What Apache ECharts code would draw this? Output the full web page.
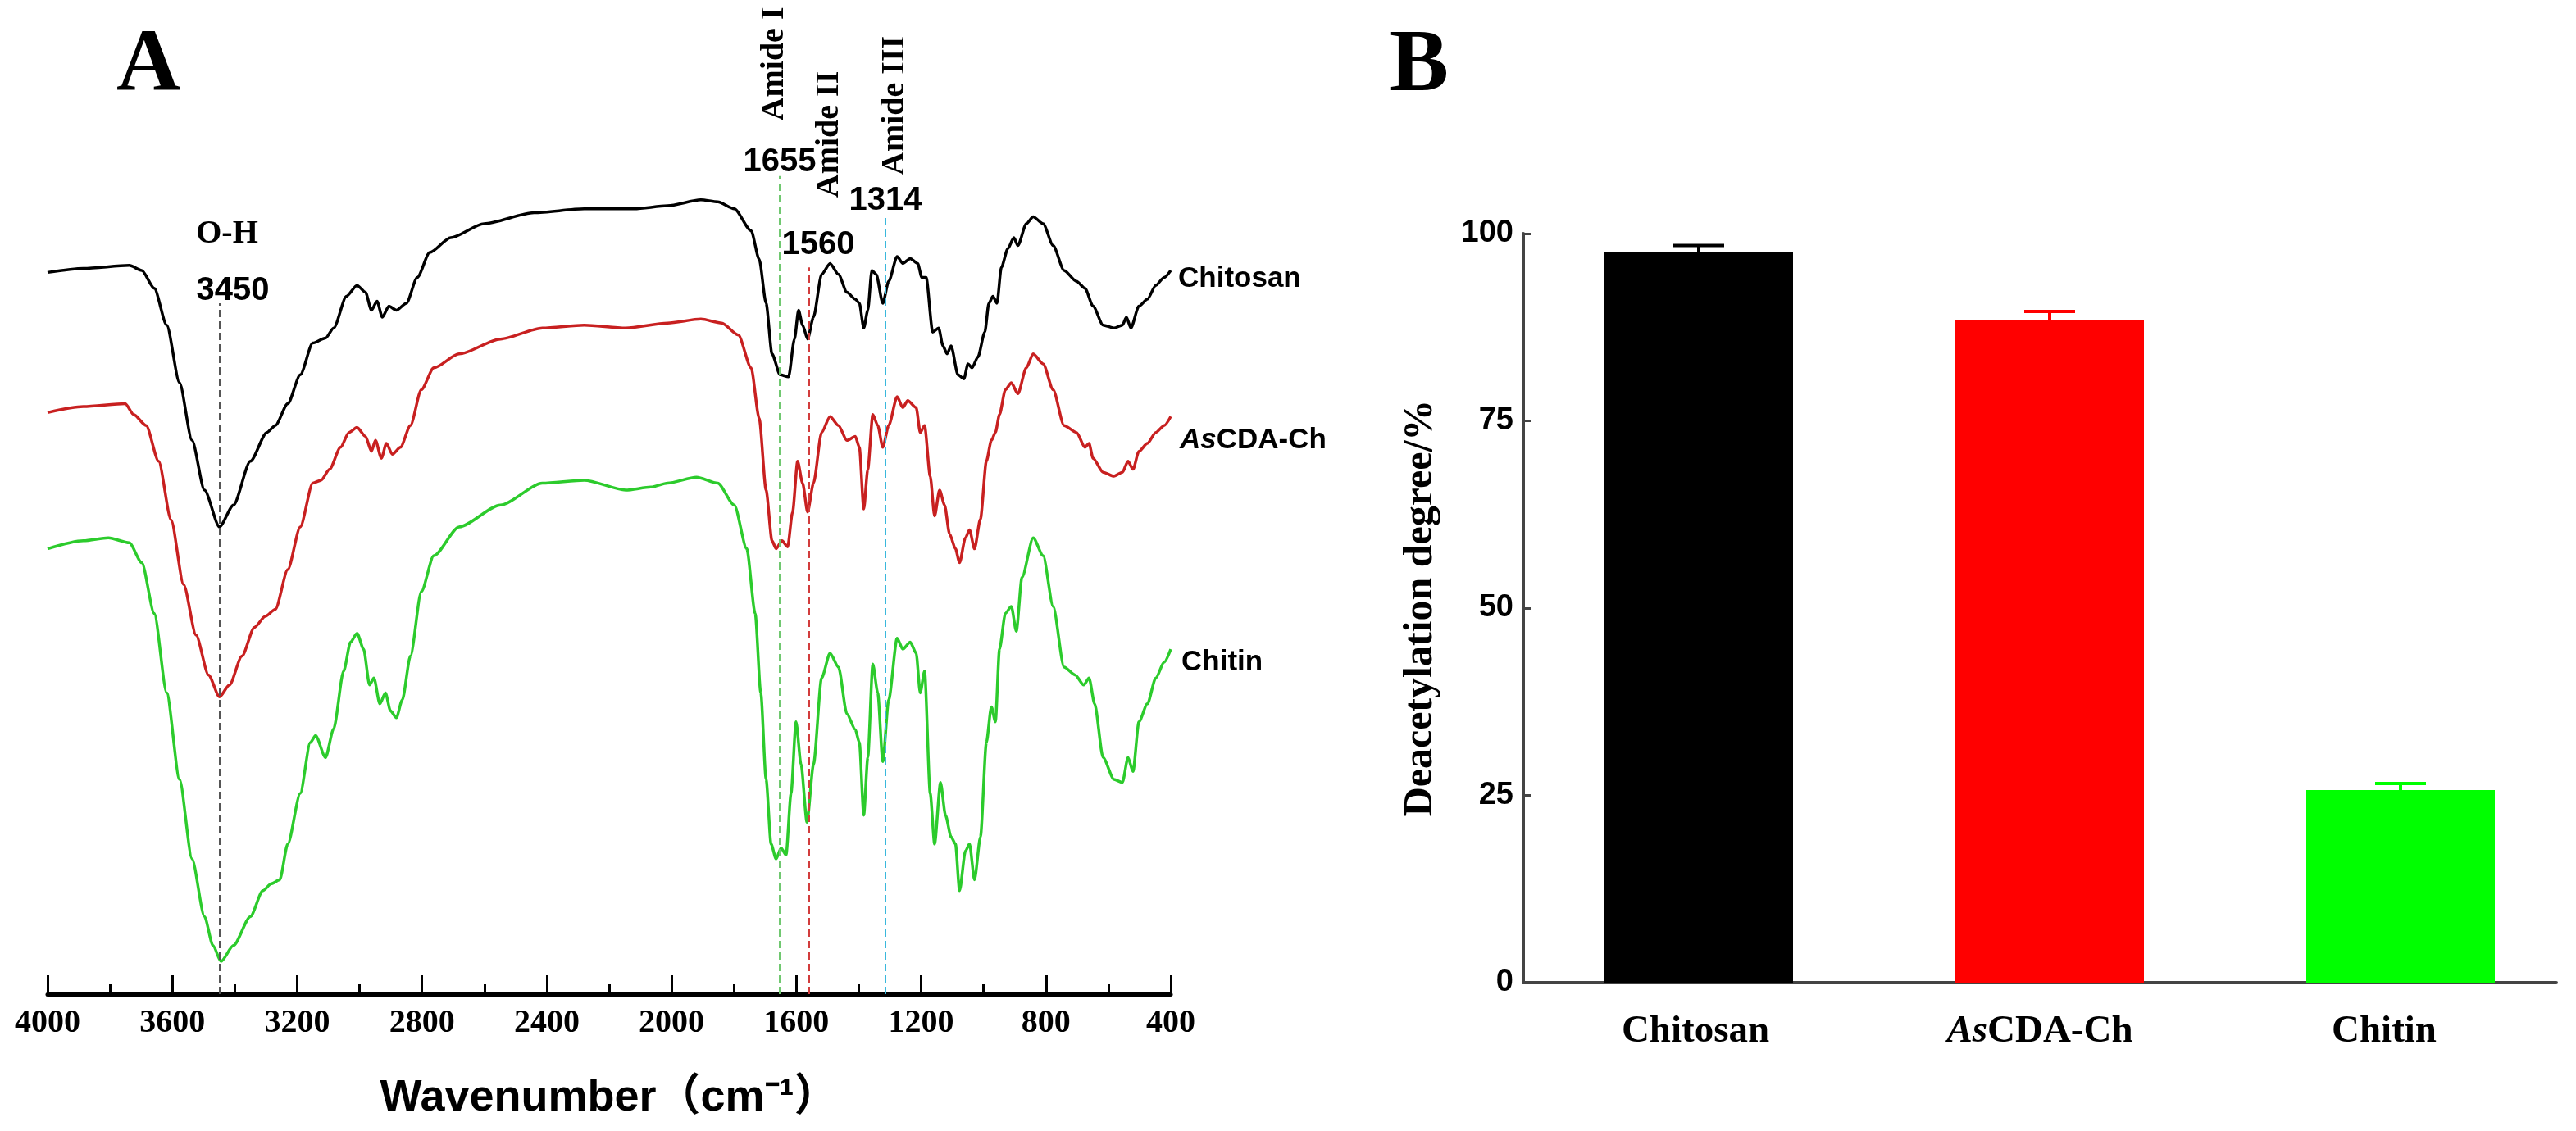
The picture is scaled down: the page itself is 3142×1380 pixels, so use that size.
<!DOCTYPE html>
<html><head><meta charset="utf-8">
<script src="https://cdn.jsdelivr.net/npm/echarts@6/dist/echarts.min.js"></script>
<style>html,body{margin:0;padding:0;background:#fff}#c{width:3142px;height:1380px}</style>
</head><body><div id="c"></div>
<script>
// ---- Panel A: FTIR spectra, [wavenumber (cm-1), offset transmittance (a.u.)] ----
const chitosanIR = [[4000,72.6],[3885,73.0],[3738,73.3],[3698,72.8],[3658,71.0],[3618,67.3],[3577,61.5],[3537,55.7],[3497,50.7],[3449,47.0],[3404,49.2],[3350,53.6],[3297,56.5],[3270,57.2],[3230,59.4],[3190,62.3],[3150,65.5],[3109,66.0],[3083,67.0],[3042,70.2],[3008,71.3],[2981,70.6],[2962,68.8],[2944,69.7],[2927,68.1],[2906,69.2],[2882,68.8],[2850,69.5],[2815,72.1],[2775,74.6],[2708,76.1],[2601,77.5],[2441,78.6],[2280,79.0],[2120,79.0],[2013,79.3],[1906,79.9],[1852,79.7],[1799,79.0],[1745,76.8],[1719,73.9],[1697,69.5],[1678,64.4],[1652,62.3],[1625,62.1],[1606,65.9],[1593,68.8],[1580,67.3],[1564,65.9],[1545,68.1],[1519,72.4],[1492,73.5],[1465,72.4],[1438,70.6],[1411,69.9],[1398,69.5],[1384,67.0],[1371,68.8],[1358,72.8],[1344,72.4],[1323,69.5],[1304,71.7],[1277,74.2],[1259,73.5],[1235,74.0],[1211,73.5],[1198,72.1],[1184,72.1],[1163,66.6],[1144,67.0],[1130,65.2],[1117,64.4],[1104,65.2],[1082,62.3],[1063,61.9],[1050,63.4],[1037,63.0],[1018,64.1],[996,66.6],[983,69.5],[970,70.2],[957,69.5],[943,73.1],[922,75.0],[903,76.1],[890,75.3],[863,77.5],[841,78.2],[809,77.5],[777,75.3],[742,72.8],[702,71.7],[675,71.0],[649,69.2],[617,67.3],[582,67.0],[555,67.3],[542,68.1],[528,67.0],[502,69.2],[475,69.9],[448,71.3],[421,72.1],[400,72.8]];
const ascdaIR = [[4000,58.5],[3885,59.1],[3751,59.4],[3724,58.3],[3684,57.2],[3644,53.6],[3604,47.7],[3564,41.2],[3524,36.1],[3484,32.1],[3449,29.9],[3417,31.1],[3377,34.0],[3337,36.9],[3302,38.0],[3270,38.7],[3230,42.7],[3190,47.0],[3150,51.4],[3123,51.7],[3096,52.8],[3061,55.0],[3034,56.5],[3008,57.0],[2981,56.1],[2962,54.6],[2949,55.7],[2930,53.9],[2914,55.4],[2895,54.3],[2869,55.0],[2837,57.2],[2802,60.8],[2762,63.0],[2681,64.4],[2548,65.9],[2414,67.0],[2280,67.3],[2147,67.0],[2013,67.5],[1906,67.9],[1839,67.5],[1786,66.3],[1745,63.0],[1719,57.9],[1697,50.7],[1678,45.6],[1665,44.8],[1646,45.6],[1628,45.0],[1612,48.5],[1596,53.6],[1580,51.4],[1564,48.5],[1545,51.4],[1519,56.5],[1492,58.1],[1465,57.2],[1438,55.7],[1411,56.1],[1398,55.0],[1384,48.8],[1371,52.8],[1355,58.3],[1339,57.2],[1323,55.0],[1304,57.2],[1277,60.1],[1259,59.0],[1243,59.7],[1216,59.0],[1203,56.5],[1189,57.2],[1171,52.1],[1157,48.1],[1141,50.7],[1125,49.2],[1109,46.3],[1090,44.8],[1077,43.4],[1058,45.9],[1045,46.7],[1029,44.8],[1010,47.8],[991,53.6],[975,55.7],[962,56.5],[949,58.3],[930,60.8],[911,61.5],[890,60.4],[863,63.0],[841,64.4],[809,63.4],[777,60.8],[742,57.2],[702,56.5],[675,55.0],[662,55.4],[649,53.9],[617,52.5],[582,52.1],[555,52.5],[537,53.6],[521,52.8],[502,54.6],[475,55.4],[448,56.5],[421,57.2],[400,58.1]];
const chitinIR = [[4000,44.8],[3885,45.6],[3805,45.9],[3738,45.4],[3698,43.4],[3658,38.3],[3618,30.3],[3577,21.6],[3537,13.6],[3497,7.8],[3470,4.9],[3444,3.3],[3404,4.9],[3350,7.8],[3310,10.4],[3283,11.1],[3256,11.5],[3230,15.1],[3190,20.2],[3158,25.3],[3141,26.0],[3109,23.8],[3083,26.7],[3051,32.5],[3029,35.4],[3008,36.3],[2987,34.7],[2968,31.1],[2954,31.8],[2935,29.2],[2917,30.3],[2901,28.5],[2882,27.8],[2863,29.6],[2837,34.0],[2802,40.5],[2762,44.1],[2681,47.0],[2548,49.2],[2414,51.4],[2280,51.7],[2147,50.7],[2066,51.0],[2013,51.4],[1920,52.0],[1852,51.4],[1799,49.2],[1759,44.8],[1732,38.3],[1714,30.3],[1697,21.6],[1681,15.1],[1665,13.6],[1649,14.7],[1633,14.0],[1617,20.2],[1601,27.4],[1585,23.1],[1566,17.3],[1545,23.1],[1519,31.8],[1492,34.3],[1465,32.9],[1438,28.2],[1411,26.6],[1398,25.3],[1384,18.0],[1371,23.8],[1355,33.2],[1339,30.3],[1323,23.4],[1304,29.6],[1277,35.8],[1259,34.7],[1235,35.4],[1216,34.3],[1203,30.3],[1189,32.5],[1171,20.2],[1157,15.1],[1138,21.3],[1122,18.0],[1104,15.8],[1090,15.1],[1077,10.4],[1058,14.4],[1045,15.1],[1029,11.5],[1010,15.8],[991,25.3],[975,28.9],[962,27.4],[949,34.7],[930,38.3],[911,39.0],[895,36.5],[877,41.9],[841,45.9],[809,44.1],[777,39.0],[742,32.9],[706,32.1],[679,31.1],[662,31.8],[644,29.2],[617,23.8],[582,21.6],[555,21.3],[537,23.8],[521,22.4],[502,27.4],[475,29.2],[448,31.8],[421,33.4],[400,34.7]];
const peakWavenumbers = [3450, 1655, 1560, 1314];
const peakLineTops = [69.5, 82.3, 73.1, 78.4];
const peakLabels = ['3450', '1655', '1560', '1314'];
const bandNames = ['O-H', 'Amide I', 'Amide II', 'Amide III'];
const spectrumNames = ['Chitosan', 'AsCDA-Ch', 'Chitin'];

// ---- Panel B: deacetylation degree ----
const samples = ['Chitosan', 'AsCDA-Ch', 'Chitin'];
const deacetylation = [97.5, 88.5, 25.7];
const deacetylationSD = [0.9, 1.1, 0.9];
const yTicksB = [0, 25, 50, 75, 100];

const SERIF = '"Liberation Serif","Times New Roman",serif';
const SANS = '"Liberation Sans",Arial,"Noto Sans CJK SC",sans-serif';
const lineColors = ['#000000', '#c82020', '#2ccb2c'];
const barColors = ['#000000', '#ff0000', '#00ff00'];
const peakColors = ['#555555', '#70c870', '#d23c3c', '#3ab8dc'];

const chart = echarts.init(document.getElementById('c'), null, {width: 3142, height: 1380, renderer: 'canvas'});

const spectra = [chitosanIR, ascdaIR, chitinIR];
const lineSeries = spectra.map((d, i) => ({
  type: 'line', name: spectrumNames[i], xAxisIndex: 0, yAxisIndex: 0,
  data: d, showSymbol: false, smooth: 0.25, smoothMonotone: 'x',
  lineStyle: {color: lineColors[i], width: 3.5}, itemStyle: {color: lineColors[i]},
  silent: true, z: 3,
  markLine: i === 0 ? {
    silent: true, symbol: 'none', label: {show: false}, animation: false,
    data: peakWavenumbers.map((w, k) => [
      {coord: [w, 0], lineStyle: {color: peakColors[k], type: [9, 5], width: 2}},
      {coord: [w, peakLineTops[k]]}
    ])
  } : undefined
}));

const txt = (text, x, y, font, opts) => Object.assign({
  type: 'text', x: x, y: y, silent: true,
  style: Object.assign({text: text, font: font, fill: '#000', align: 'center', verticalAlign: 'middle'}, (opts && opts.style) || {})
}, opts && opts.rotation ? {rotation: opts.rotation} : {});

const graphics = [
  txt('A', 181, 82, 'bold 108px ' + SERIF),
  txt('B', 1731, 82, 'bold 108px ' + SERIF),
  txt(bandNames[0], 277, 286, 'bold 40px ' + SERIF),
  txt(peakLabels[0], 284, 355, 'bold 40px ' + SANS),
  txt(peakLabels[1], 951, 198, 'bold 40px ' + SANS),
  txt(peakLabels[2], 998, 299, 'bold 40px ' + SANS),
  txt(peakLabels[3], 1080, 245, 'bold 40px ' + SANS),
  txt(bandNames[1], 945, 78, 'bold 40px ' + SERIF, {rotation: Math.PI / 2}),
  txt(bandNames[2], 1012, 164, 'bold 40px ' + SERIF, {rotation: Math.PI / 2}),
  txt(bandNames[3], 1092, 129, 'bold 40px ' + SERIF, {rotation: Math.PI / 2}),
  txt(spectrumNames[0], 1437, 340, 'bold 35px ' + SANS, {style: {align: 'left'}}),
  {type: 'text', x: 1439, y: 537, silent: true, style: {
    text: '{i|As}{n|CDA-Ch}', align: 'left', verticalAlign: 'middle', fill: '#000',
    rich: {i: {fontFamily: SANS, fontWeight: 'bold', fontStyle: 'italic', fontSize: 35, fill: '#000'},
           n: {fontFamily: SANS, fontWeight: 'bold', fontSize: 35, fill: '#000'}}}},
  txt(spectrumNames[2], 1441, 808, 'bold 35px ' + SANS, {style: {align: 'left'}})
];

const option = {
  animation: false,
  backgroundColor: '#ffffff',
  grid: [
    {left: 58, top: 0, width: 1370, height: 1213},
    {left: 1858, top: 285, width: 1260, height: 914},
    {left: 1858, top: 285, width: 1369, height: 914}
  ],
  xAxis: [
    {gridIndex: 0, type: 'value', inverse: true, min: 400, max: 4000, interval: 400,
     axisLine: {show: true, onZero: false, lineStyle: {color: '#000', width: 5}},
     axisTick: {show: true, inside: true, length: 23, lineStyle: {color: '#000', width: 3}},
     minorTick: {show: true, splitNumber: 2, length: 12, lineStyle: {color: '#000', width: 3}},
     splitLine: {show: false}, minorSplitLine: {show: false},
     axisLabel: {margin: 16, color: '#000', fontFamily: SERIF, fontWeight: 'bold', fontSize: 40,
                 formatter: v => String(v)},
     name: 'Wavenumber（cm⁻¹）', nameLocation: 'middle', nameGap: 100,
     nameTextStyle: {fontFamily: SANS, fontWeight: 'bold', fontSize: 54, color: '#000'}},
    {gridIndex: 1, type: 'category', data: samples,
     axisLine: {show: true, lineStyle: {color: '#444', width: 4}}, axisTick: {show: false},
     splitLine: {show: false},
     axisLabel: {margin: 36, interval: 0,
       formatter: v => v === 'AsCDA-Ch' ? '{i|As}{n|CDA-Ch}' : '{n|' + v + '}',
       rich: {i: {fontFamily: SERIF, fontWeight: 'bold', fontStyle: 'italic', fontSize: 47, color: '#000'},
              n: {fontFamily: SERIF, fontWeight: 'bold', fontSize: 47, color: '#000'}}}},
    {gridIndex: 2, type: 'category', data: samples, show: false}
  ],
  yAxis: [
    {gridIndex: 0, type: 'value', min: 0, max: 100, show: false},
    {gridIndex: 1, type: 'value', min: yTicksB[0], max: yTicksB[yTicksB.length - 1], interval: 25,
     axisLine: {show: true, lineStyle: {color: '#444', width: 4}},
     axisTick: {show: true, inside: true, length: 10, lineStyle: {color: '#444', width: 3}},
     splitLine: {show: false},
     axisLabel: {margin: 12, color: '#000', fontFamily: SANS, fontWeight: 'bold', fontSize: 38},
     name: 'Deacetylation degree/%', nameLocation: 'middle', nameGap: 100,
     nameTextStyle: {fontFamily: SERIF, fontWeight: 'bold', fontSize: 50, color: '#000'}},
    {gridIndex: 2, type: 'value', min: 0, max: 100, show: false}
  ],
  series: lineSeries.concat([
    {type: 'bar', name: 'Deacetylation degree', xAxisIndex: 2, yAxisIndex: 2, barWidth: 230, silent: true,
     data: deacetylation.map((v, i) => ({value: v, itemStyle: {color: barColors[i]}}))},
    {type: 'custom', name: 'SD', xAxisIndex: 2, yAxisIndex: 2, silent: true, z: 4,
     data: deacetylation.map((v, i) => [i, v, deacetylationSD[i]]),
     encode: {x: 0, y: 1},
     renderItem: (params, api) => {
       const idx = api.value(0);
       const base = api.coord([idx, api.value(1)]);
       const top = api.coord([idx, api.value(1) + api.value(2)]);
       const c = barColors[params.dataIndex];
       return {type: 'group', children: [
         {type: 'line', shape: {x1: base[0], y1: base[1], x2: top[0], y2: top[1]}, style: {stroke: c, lineWidth: 4}},
         {type: 'line', shape: {x1: top[0] - 31, y1: top[1], x2: top[0] + 31, y2: top[1]}, style: {stroke: c, lineWidth: 4}}
       ]};
     }}
  ]),
  graphic: graphics
};
chart.setOption(option);
</script>
</body></html>
